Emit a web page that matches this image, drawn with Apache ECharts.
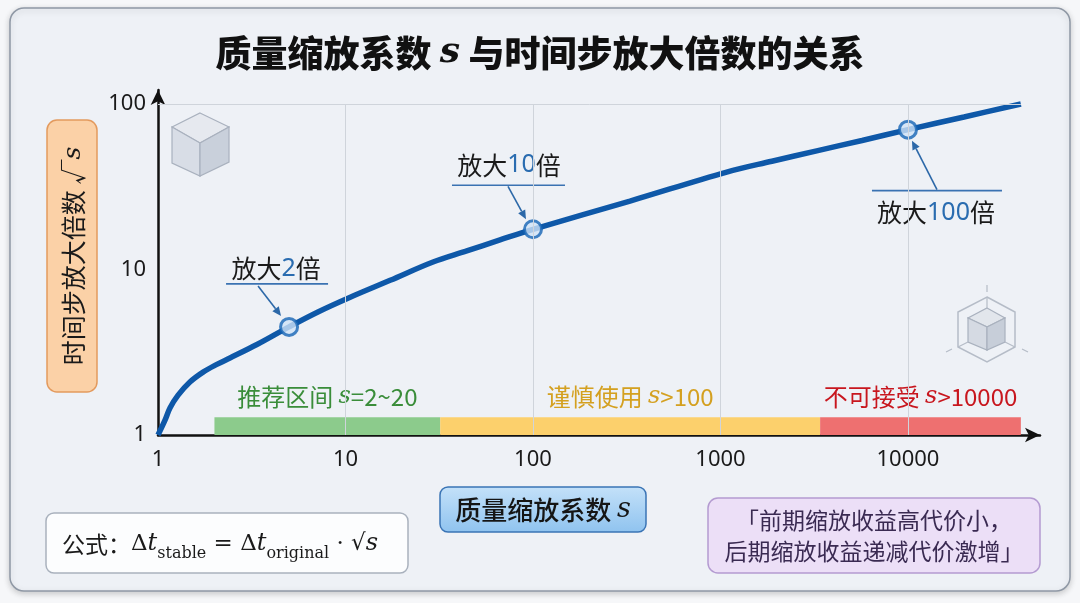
<!DOCTYPE html>
<html>
<head>
<meta charset="utf-8">
<script src="https://cdn.jsdelivr.net/npm/echarts@6/dist/echarts.min.js"></script>
<style>
  html, body { margin: 0; padding: 0; background: #f6f7f9; }
  #chart { width: 1080px; height: 603px; }
</style>
</head>
<body>
<div id="chart"></div>
<script>
// 曲线数据
var sValues    = [1, 1.09, 1.16, 1.28, 1.48, 1.74, 2.06, 2.42, 3.37, 5, 7.13, 10.6, 17.3, 29.3, 43.9, 66.7, 100, 329, 1080, 1880, 3260, 5690, 10000, 19900, 40000];
var stepFactor = [1, 1.23, 1.46, 1.74, 2.09, 2.4, 2.67, 2.92, 3.52, 4.5, 5.54, 6.8, 8.6, 11.1, 12.9, 15.1, 17.5, 25.9, 38.8, 45.1, 52.1, 60.2, 70, 83.5, 100];

// 标注点
var keyS      = [5, 100, 10000];
var keyFactor = [4.5, 17.5, 70];
var keyLabels = ['2', '10', '100'];

// 区间
var bandStart = [2, 32, 3400];
var bandEnd   = [32, 3400, 40000];
var bandNames = ['推荐区间 ', '谨慎使用 ', '不可接受 '];
var bandConds = ['=2~20', '>100', '>10000'];
var bandTop   = 1.28;

// 网格线
var xGridTicks = [10, 100, 1000, 10000];
var yGridTicks = [100];

var FONT = '"Noto Sans CJK SC", "Noto Sans", sans-serif';
var NUM = '"Noto Sans", "Noto Sans CJK SC", sans-serif';
var SERIF = '"DejaVu Serif", "Liberation Serif", serif';

var bandColors = ['#8ccb8c', '#fcd06c', '#ee7070'];
var bandText   = ['#3a8d3a', '#d4a020', '#c8161e'];

function bandData(){
    var out = [];
    for (var i = 0; i < bandStart.length; i++) {
        out.push([
            {
                coord: [bandStart[i], 1],
                itemStyle: {color: bandColors[i]},
                label: {
                    show: true,
                    position: 'top',
                    distance: 8,
                    formatter: '{t|' + bandNames[i] + '}{s|s}{t|' + bandConds[i] + '}',
                    rich: {
                        t: {fontFamily: FONT, fontSize: 24, color: bandText[i]},
                        s: {fontFamily: SERIF, fontStyle: 'italic', fontSize: 24, color: bandText[i]}
                    }
                }
            },
            {coord: [bandEnd[i], bandTop]}
        ]);
    }
    return out;
}

function gridLines(){
    var out = [];
    xGridTicks.forEach(function(v){
        out.push([{coord: [v, 1]}, {coord: [v, 100]}]);
    });
    yGridTicks.forEach(function(v){
        out.push([{coord: [1, v]}, {coord: [40000, v]}]);
    });
    return out;
}

function curveData(){
    return sValues.map(function(s, i){ return [s, stepFactor[i]]; });
}

function keyData(){
    return keyS.map(function(s, i){ return [s, keyFactor[i]]; });
}

function boxes(){
    return [
        {   // 外框卡片
            type: 'rect', z: -10,
            shape: {x: 10, y: 8, width: 1060, height: 583, r: 14},
            style: {fill: '#eef1f6', stroke: '#8f98a5', lineWidth: 1.5,
                shadowBlur: 6, shadowOffsetY: 2, shadowColor: 'rgba(0,0,0,0.18)'}
        },
        {
            type: 'text', x: 540, y: 53,
            style: {
                text: '{t|质量缩放系数 }{s|s}{t| 与时间步放大倍数的关系}',
                align: 'center', verticalAlign: 'middle',
                rich: {
                    t: {fontFamily: FONT, fontSize: 36, fontWeight: 900, fill: '#111'},
                    s: {fontFamily: SERIF, fontStyle: 'italic', fontWeight: 'bold', fontSize: 36, fill: '#111'}
                }
            }
        },
        {   // y 轴标题
            type: 'rect',
            shape: {x: 47, y: 120, width: 50, height: 272, r: 10},
            style: {fill: '#fbd1a7', stroke: '#e39a5e', lineWidth: 1.5}
        },
        {
            type: 'text', x: 73, y: 256, rotation: Math.PI / 2,
            style: {
                text: '{t|时间步放大倍数 √}{s|s}',
                align: 'center', verticalAlign: 'middle',
                rich: {
                    t: {fontFamily: FONT, fontSize: 25, fill: '#1a1a1a'},
                    s: {fontFamily: SERIF, fontStyle: 'italic', fontSize: 25, fill: '#1a1a1a'}
                }
            }
        },
        {   // x 轴标题
            type: 'rect',
            shape: {x: 440, y: 487, width: 206, height: 45, r: 8},
            style: {
                fill: new echarts.graphic.LinearGradient(0, 0, 0, 1, [
                    {offset: 0, color: '#c4e1f9'}, {offset: 1, color: '#8fc3ef'}
                ]),
                stroke: '#3a74b5', lineWidth: 1.5
            }
        },
        {
            type: 'text', x: 543, y: 510,
            style: {
                text: '{t|质量缩放系数 }{s|s}',
                align: 'center', verticalAlign: 'middle',
                rich: {
                    t: {fontFamily: FONT, fontSize: 26, fontWeight: 500, fill: '#151515'},
                    s: {fontFamily: SERIF, fontStyle: 'italic', fontSize: 27, fill: '#151515'}
                }
            }
        },
        {   // 公式
            type: 'rect',
            shape: {x: 46, y: 513, width: 362, height: 60, r: 8},
            style: {fill: '#fcfdfe', stroke: '#a9b1bd', lineWidth: 1.5}
        },
        {
            type: 'text', x: 62, y: 544,
            style: {
                text: '{c|公式：}{m|Δ}{i|t}{b|stable}{m| = Δ}{i|t}{b|original}{m| · √}{i|s}',
                align: 'left', verticalAlign: 'middle',
                rich: {
                    c: {fontFamily: FONT, fontSize: 23, fill: '#1a1a1a', lineHeight: 36},
                    m: {fontFamily: SERIF, fontSize: 23, fill: '#1a1a1a', lineHeight: 36},
                    i: {fontFamily: SERIF, fontStyle: 'italic', fontSize: 24, fill: '#1a1a1a', lineHeight: 36},
                    b: {fontFamily: SERIF, fontSize: 16, fill: '#1a1a1a', verticalAlign: 'bottom', lineHeight: 24}
                }
            }
        },
        {   // 引言
            type: 'rect',
            shape: {x: 708, y: 498, width: 332, height: 75, r: 10},
            style: {fill: '#ecdff7', stroke: '#b49bd1', lineWidth: 1.5}
        },
        {
            type: 'text', x: 874, y: 536,
            style: {
                text: '「前期缩放收益高代价小，\n后期缩放收益递减代价激增」',
                align: 'center', verticalAlign: 'middle',
                fontFamily: FONT, fontSize: 23, lineHeight: 31, fill: '#3a2a52'
            }
        }
    ];
}

function cubeIcons(){
    var stroke = '#a9b1be';
    var items = [];
    // 左上立方体
    items.push({type: 'polygon', shape: {points: [[200,113],[229,127],[200,143],[172,127]]},
        style: {fill: '#e6e9ef', stroke: stroke, lineWidth: 1.2}});
    items.push({type: 'polygon', shape: {points: [[172,127],[200,143],[200,176],[172,163]]},
        style: {fill: '#d8dde6', stroke: stroke, lineWidth: 1.2}});
    items.push({type: 'polygon', shape: {points: [[200,143],[229,127],[229,162],[200,176]]},
        style: {fill: '#c9d0db', stroke: stroke, lineWidth: 1.2}});
    // 右下六边形 + 立方体
    items.push({type: 'polygon', shape: {points: [[987,297],[1015,312],[1015,347],[987,362],[958,347],[958,312]]},
        style: {fill: 'none', stroke: '#b5bcc7', lineWidth: 1.5}});
    items.push({type: 'polygon', shape: {points: [[987,308],[1005,318],[987,327],[968,318]]},
        style: {fill: '#e2e6ec', stroke: stroke, lineWidth: 1.2}});
    items.push({type: 'polygon', shape: {points: [[968,318],[987,327],[987,350],[968,342]]},
        style: {fill: '#d5dae3', stroke: stroke, lineWidth: 1.2}});
    items.push({type: 'polygon', shape: {points: [[987,327],[1005,318],[1005,342],[987,350]]},
        style: {fill: '#c7ced9', stroke: stroke, lineWidth: 1.2}});
    [[[987,297],[987,308]], [[958,347],[968,342]], [[1015,347],[1005,342]],
     [[987,285],[987,292]], [[946,352],[952,349]], [[1022,349],[1028,352]]].forEach(function(l){
        items.push({type: 'line', shape: {x1: l[0][0], y1: l[0][1], x2: l[1][0], y2: l[1][1]},
            style: {stroke: '#b5bcc7', lineWidth: 1.2}});
    });
    return items;
}

// 标注：相对于标注点的偏移
var annoOffsets = [
    {text: [-13, -58], line: [-63, 39, -43], arrow: [[-31, -41], [-8, -11]]},
    {text: [-24, -64], line: [-81, 32, -44], arrow: [[-25, -43], [-7, -10]]},
    {text: [28, 83],   line: [-36, 94, 61],  arrow: [[29, 60], [4, 11]]}
];

function arrow(p0, p1, color){
    var dx = p1[0] - p0[0], dy = p1[1] - p0[1];
    var len = Math.sqrt(dx * dx + dy * dy);
    var ux = dx / len, uy = dy / len;
    var hl = 9, hw = 4;
    var bx = p1[0] - ux * hl, by = p1[1] - uy * hl;
    return [
        {type: 'line', shape: {x1: p0[0], y1: p0[1], x2: bx, y2: by},
            style: {stroke: color, lineWidth: 1.6}},
        {type: 'polygon', shape: {points: [
            [p1[0], p1[1]], [bx - uy * hw, by + ux * hw], [bx + uy * hw, by - ux * hw]]},
            style: {fill: color}}
    ];
}

function annotations(chart){
    var items = [];
    keyS.forEach(function(s, i){
        var p = chart.convertToPixel({gridIndex: 0}, [s, keyFactor[i]]);
        var o = annoOffsets[i];
        items.push({
            type: 'text', x: p[0] + o.text[0], y: p[1] + o.text[1],
            style: {
                text: '{a|放大}{b|' + keyLabels[i] + '}{a|倍}',
                align: 'center', verticalAlign: 'middle',
                rich: {
                    a: {fontFamily: FONT, fontSize: 25, fill: '#1a1a1a'},
                    b: {fontFamily: NUM, fontSize: 25, fill: '#2a6cb0'}
                }
            }
        });
        items.push({type: 'line',
            shape: {x1: p[0] + o.line[0], y1: p[1] + o.line[2], x2: p[0] + o.line[1], y2: p[1] + o.line[2]},
            style: {stroke: '#3a72b2', lineWidth: 1.6}});
        items = items.concat(arrow(
            [p[0] + o.arrow[0][0], p[1] + o.arrow[0][1]],
            [p[0] + o.arrow[1][0], p[1] + o.arrow[1][1]], '#2c68a8'));
    });
    return items;
}

var chart = echarts.init(document.getElementById('chart'));

var option = {
    backgroundColor: '#f6f7f9',
    animation: false,
    grid: {left: 158, right: 40, top: 90, bottom: 168},
    xAxis: {
        type: 'log', logBase: 10, min: 1, max: 50600,
        axisLine: {lineStyle: {color: '#111', width: 2.5}, symbol: ['none', 'arrow'], symbolSize: [11, 15]},
        axisTick: {show: false},
        splitLine: {show: false},
        axisLabel: {
            fontFamily: NUM, fontSize: 22, color: '#1a1a1a', margin: 14,
            showMaxLabel: false,
            formatter: function(v){ return String(Math.round(v)); }
        }
    },
    yAxis: {
        type: 'log', logBase: 10, min: 1, max: 121.5,
        axisLine: {lineStyle: {color: '#111', width: 2.5}, symbol: ['none', 'arrow'], symbolSize: [11, 15]},
        axisTick: {show: false},
        splitLine: {show: false},
        axisLabel: {
            fontFamily: NUM, fontSize: 22, color: '#1a1a1a', margin: 12,
            showMaxLabel: false,
            formatter: function(v){ return String(Math.round(v)); }
        }
    },
    graphic: boxes().concat(cubeIcons()),
    series: [
        {
            name: 'grid', type: 'line', data: [], z: 1, silent: true,
            markLine: {
                silent: true, symbol: ['none', 'none'], label: {show: false},
                lineStyle: {color: '#cfd4db', width: 1, type: 'solid'},
                data: gridLines()
            }
        },
        {
            name: 'bands', type: 'line', data: [], z: 2, silent: true,
            markArea: {silent: true, data: bandData()}
        },
        {
            name: '放大倍数', type: 'line', data: curveData(), z: 3,
            smooth: 0.35, showSymbol: false,
            lineStyle: {color: '#0e58a8', width: 5.5}
        },
        {
            name: '标注', type: 'scatter', data: keyData(), z: 4,
            symbol: 'circle', symbolSize: 17,
            itemStyle: {color: '#cfe3f7', borderColor: '#1765b5', borderWidth: 3}
        }
    ]
};

chart.setOption(option);
chart.setOption({graphic: boxes().concat(cubeIcons()).concat(annotations(chart))}, {replaceMerge: ['graphic']});
</script>
</body>
</html>
